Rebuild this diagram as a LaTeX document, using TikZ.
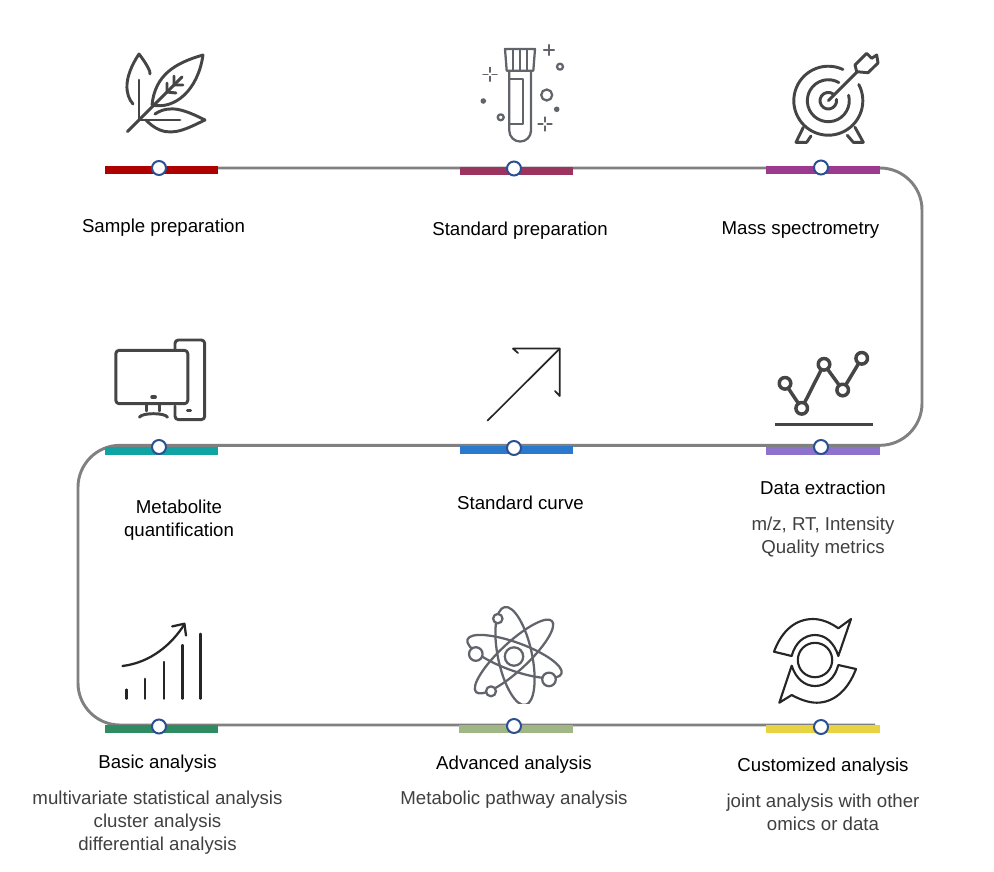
\documentclass[tikz,border=0pt]{standalone}
\usepackage{fontspec}
\setmainfont{Liberation Sans}
\usetikzlibrary{backgrounds}
\definecolor{barA}{HTML}{AF0000}
\definecolor{barB}{HTML}{9B3560}
\definecolor{barC}{HTML}{9C3A8F}
\definecolor{barD}{HTML}{0FA3A3}
\definecolor{barE}{HTML}{2A79CC}
\definecolor{barF}{HTML}{8E73CC}
\definecolor{barG}{HTML}{2E8B62}
\definecolor{barH}{HTML}{A0B685}
\definecolor{barI}{HTML}{E8D342}
\definecolor{ringblue}{HTML}{2B4F93}
\definecolor{icondark}{HTML}{454545}
\definecolor{icongrey}{HTML}{62646C}
\definecolor{subgrey}{HTML}{404040}
\tikzset{
  stationbar/.style={rectangle,inner sep=0pt,minimum height=6pt},
  stationdot/.style={circle,draw=ringblue,fill=white,line width=1.5pt,inner sep=0pt,minimum size=10.5pt},
  track/.style={draw=gray,line width=2.2pt,rounded corners=31.5pt},
  headline/.style={font=\fontsize{14}{17.25}\selectfont,align=center,text=black},
  subline/.style={font=\fontsize{14}{17.25}\selectfont,align=center,text=subgrey},
  icon/.style={draw=icondark,line width=2.2pt,line cap=round,line join=round},
  thinicon/.style={draw=icongrey,line width=1.7pt,line cap=round,line join=round},
  inkicon/.style={draw=black!85,line width=1.6pt,line cap=round,line join=round}
}
\begin{document}
\begin{tikzpicture}[x=0.75pt,y=-0.75pt]
\useasboundingbox (0,0) rectangle (994,871);

\foreach \i/\xbar/\ybar/\wbar/\xdot/\ydot/\tone in {
    1/161.5/170/113/159/168/barA, 2/516.5/171/113/514/168.5/barB, 3/823/170/114/821/167.5/barC,
    4/161.5/450.5/113/159/447/barD, 5/516.5/450/113/514/448/barE, 6/823/450.5/114/821/447/barF,
    7/161.5/729/113/159/726.5/barG, 8/516/729/114/514/726/barH, 9/823/729/114/821/727/barI} {
    \node[stationbar,fill=\tone,minimum width=\wbar*0.75pt] (bar\i) at (\xbar,\ybar) {};
    \node[stationdot] (dot\i) at (\xdot,\ydot) {};
}

\coordinate (turnNE) at (922,168);
\coordinate (turnSE) at (922,445.3);
\coordinate (turnSW) at (78,445.3);
\coordinate (turnNW) at (78,725);
\coordinate (trackend) at (875,725);
\begin{scope}[on background layer]
\draw[track] (dot1) -- (turnNE) -- (turnSE) -- (turnSW) -- (turnNW) -- (trackend);
\end{scope}

\node[headline] (labelA) at (163.5,228) {Sample preparation};
\node[headline] (labelB) at (520,231) {Standard preparation};
\node[headline] (labelC) at (800.5,230) {Mass spectrometry};
\node[headline] (labelD) at (179,520.5) {Metabolite\\quantification};
\node[headline] (labelE) at (520.5,503) {Standard curve};
\node[headline] (labelF) at (823,488) {Data extraction};
\node[subline] (subF) at (823,537.5) {m/z, RT, Intensity\\Quality metrics};
\node[headline] (labelG) at (157.5,764) {Basic analysis};
\node[subline] (subG) at (157.5,822.5) {multivariate statistical analysis\\cluster analysis\\differential analysis};
\node[headline] (labelH) at (514,765) {Advanced analysis};
\node[subline] (subH) at (514,800) {Metabolic pathway analysis};
\node[headline] (labelI) at (823,767) {Customized analysis};
\node[subline] (subI) at (823,812.5) {joint analysis with other\\omics or data};

\draw[icon] (127.5,131.5) -- (182,77);
\draw[icon] (203,55) .. controls (175,63) and (155,75) .. (152,105) .. controls (175,110) and (198,90) .. (203,55);
\draw[icon] (167,92) -- (167,83) (167,92) -- (176,93) (174,85) -- (174,76) (174,85) -- (183,85);
\draw[icon] (133,104) .. controls (125,95) and (123,78) .. (139,54) .. controls (146,63) and (151,72) .. (150,74);
\draw[icon] (139,80) -- (139,120);
\draw[icon] (155,114) .. controls (170,104) and (185,110) .. (205,120) .. controls (190,127) and (175,136) .. (160,130) .. controls (153,127) and (150,124) .. (146,120);
\draw[icon] (140,120) -- (180,120);

\draw[thinicon] (505,49) -- (535,49) -- (533.3,70.7) -- (506.7,70.7) -- cycle;
\draw[thinicon] (513,49) -- (513,70.7) (520,49) -- (520,70.7) (527,49) -- (527,70.7);
\draw[thinicon] (509.3,71) -- (509.3,130.7) arc[start angle=180,end angle=0,radius=10.85] -- (531,71);
\draw[thinicon] (510,79.3) -- (523.3,79.3) -- (523.3,124) -- (510,124);
\draw[thinicon,line width=1.8pt] (544,50) -- (554,50) (549,45) -- (549,55);
\foreach \xpos/\ypos in {490/74.3, 545/124} {
    \draw[thinicon,line width=0.9pt] (\xpos-7,\ypos) -- (\xpos-2,\ypos) (\xpos+2,\ypos) -- (\xpos+7,\ypos)
        (\xpos,\ypos-7) -- (\xpos,\ypos-2) (\xpos,\ypos+2) -- (\xpos,\ypos+7);
}
\draw[thinicon] (560,66.7) circle (3) (546.7,95) circle (5.5) (500.7,117.3) circle (3);
\fill[icongrey] (483.3,101) circle (2.8) (556.7,109.3) circle (2.8);

\coordinate (targetcore) at (828.3,100.7);
\draw[icon] (targetcore) ++(-28:34.5) arc[start angle=-28,end angle=295,radius=34.5];
\draw[icon] (targetcore) ++(-15:21) arc[start angle=-15,end angle=300,radius=21];
\draw[icon] (targetcore) ++(-10:8.3) arc[start angle=-10,end angle=310,radius=8.3];
\draw[icon] (targetcore) -- (857,72);
\draw[icon] (855,65) -- (866.7,53.3) -- (871.7,58.3) -- (876.7,55) -- (878,63) -- (868,72.7) -- (856.7,71.7) -- cycle;
\draw[icon] (803.3,127.3) -- (796,142.3) -- (806.7,142.3) -- (811,136);
\draw[icon] (855,127.3) -- (863.3,142.3) -- (853.3,142.3) -- (847.3,135.3);

\draw[icon,rounded corners=2.5pt] (115.8,350.3) rectangle (187.8,403.7);
\draw[icon,line width=2.6pt] (152,397) -- (155.2,397);
\draw[icon] (146.2,403.7) -- (146.2,411) (159.7,403.7) -- (159.7,411);
\draw[icon] (139.4,417.2) .. controls (142,412.5) and (165,412.5) .. (167.5,417.2);
\draw[icon,rounded corners=2.5pt] (175,350) -- (175,340) -- (204.7,340) -- (204.7,419.6) -- (175,419.6) -- (175,406);
\draw[icon,line width=2.6pt] (187.5,410.5) -- (190.5,410.5);

\draw[inkicon,line width=1.3pt] (487.6,420.6) -- (559.7,348.6);
\draw[inkicon,line width=1.3pt] (518,353) -- (513,348.6) -- (559.7,348.6) -- (559.7,396) -- (555,391);

\coordinate (peakA) at (785,383.3);
\coordinate (peakB) at (801.7,408.3);
\coordinate (peakC) at (824,364.3);
\coordinate (peakD) at (842.7,390);
\coordinate (peakE) at (861.7,358.3);
\draw[icon,line width=2.6pt] (peakA) -- (peakB) -- (peakC) -- (peakD) -- (peakE);
\foreach \peak in {peakA,peakB,peakC,peakD,peakE} {
    \draw[icon,line width=2.6pt,fill=white] (\peak) circle (5.8);
}
\draw[icon,line width=2.6pt,line cap=butt] (775,424.3) -- (873.3,424.3);

\foreach \xpos/\ypos in {126.6/689.6, 145.2/678.8, 163.8/661.9, 182.4/645, 200.6/633.8} {
    \draw[inkicon,line width=1.7pt] (\xpos,698.7) -- (\xpos,\ypos);
}
\draw[inkicon,line width=1.7pt] (122.5,666) .. controls (151,662.5) and (172,644) .. (184.4,624.3);
\draw[inkicon,line width=1.7pt] (172.2,626.4) -- (184.4,623.7) -- (186,635.5);

\begin{scope}
\clip (460,600) rectangle (575,703);
\draw[thinicon] (514,656.5) circle (9.2);
\draw[thinicon] (514.5,656.5) ellipse [x radius=50,y radius=14,rotate=-20];
\draw[thinicon] (514,656.5) ellipse [x radius=52,y radius=14,rotate=43];
\draw[thinicon] (515,656) ellipse [x radius=50,y radius=17,rotate=-78];
\draw[thinicon,fill=white] (497.8,618.6) circle (4.7) (475.8,654) circle (6.8) (549,679.4) circle (6.8) (491,691.3) circle (5);
\end{scope}

\draw[inkicon] (774,651.7) .. controls (782,630) and (796,619) .. (813,619) .. controls (822,619) and (831,623) .. (838.3,628.3) -- (851,619) -- (838.3,656) .. controls (834,642) and (825,635) .. (815,635) .. controls (804,635) and (795,643) .. (791.7,656) -- cycle;
\draw[inkicon] (856,669) .. controls (848,690) and (834,702.7) .. (816.7,702.7) .. controls (808,702.7) and (799,699) .. (791.7,695) -- (779.3,702.7) -- (791.7,665.7) .. controls (796,679) and (805,686) .. (815,686) .. controls (826,686) and (835,678) .. (838.3,665) -- cycle;
\draw[inkicon] (815,660) circle (17.2);
\end{tikzpicture}
\end{document}
